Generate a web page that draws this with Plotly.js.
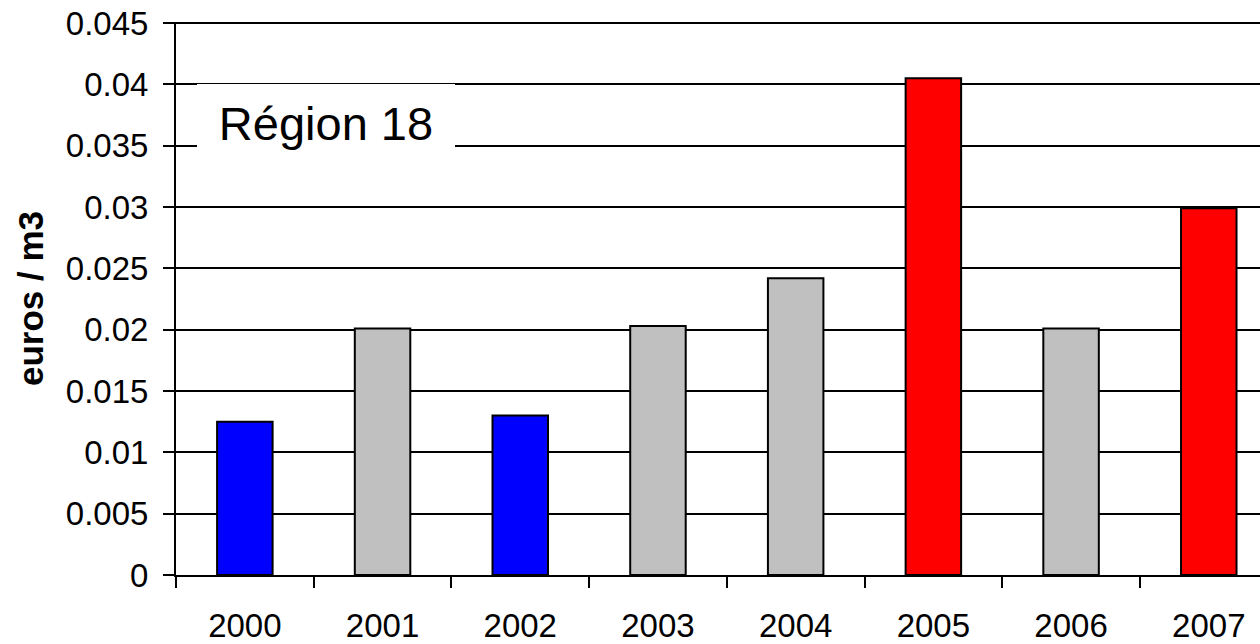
<!DOCTYPE html>
<html>
<head>
<meta charset="utf-8">
<script src="https://cdn.plot.ly/plotly-3.0.1.min.js"></script>
<style>
  html, body { margin: 0; padding: 0; background: #fff; overflow: hidden; }
  #chart { width: 1260px; height: 644px; }
</style>
</head>
<body>
<div id="chart"></div>
<script>
// Annual values (euros / m3)
const years = ["2000", "2001", "2002", "2003", "2004", "2005", "2006", "2007"];
const values = [0.0125, 0.0201, 0.013, 0.0203, 0.0242, 0.0405, 0.0201, 0.0299];
const yTicks = [0, 0.005, 0.01, 0.015, 0.02, 0.025, 0.03, 0.035, 0.04, 0.045];
const yTickLabels = ["0", "0.005", "0.01", "0.015", "0.02", "0.025", "0.03", "0.035", "0.04", "0.045"];
const regionLabel = "Région 18";

// Bar fill per year: low years blue, high years red, others grey
const fillByYear = {
  "2000": "#0000ff", "2001": "#c0c0c0", "2002": "#0000ff", "2003": "#c0c0c0",
  "2004": "#c0c0c0", "2005": "#ff0000", "2006": "#c0c0c0", "2007": "#ff0000"
};

const FONT = "Liberation Sans, Arial, sans-serif";
// a hair above the last tick so its gridline stays inside the plot
const yMax = yTicks[yTicks.length - 1] * 1.002;

const trace = {
  type: "bar",
  x: years,
  y: values,
  width: 0.403,
  marker: {
    color: years.map(y => fillByYear[y]),
    line: { color: "#000", width: 2 }
  },
  hoverinfo: "x+y"
};

const layout = {
  width: 1260,
  height: 644,
  margin: { l: 176, r: 0, t: 22, b: 69 },
  paper_bgcolor: "#fff",
  plot_bgcolor: "#fff",
  showlegend: false,
  font: { family: FONT, color: "#000", size: 33 },
  xaxis: {
    type: "category",
    range: [-0.5, 7.372],
    showgrid: false,
    zeroline: false,
    showline: true,
    linecolor: "#000",
    linewidth: 2,
    ticks: "outside",
    tickson: "boundaries",
    ticklen: 11,
    tickwidth: 2,
    tickcolor: "#000",
    ticklabelstandoff: 20,
    tickfont: { family: FONT, size: 33, color: "#000" },
    fixedrange: true
  },
  yaxis: {
    range: [0, yMax],
    tickmode: "array",
    tickvals: yTicks,
    ticktext: yTickLabels,
    showgrid: true,
    gridcolor: "#000",
    gridwidth: 2,
    zeroline: false,
    showline: true,
    linecolor: "#000",
    linewidth: 2,
    ticks: "outside",
    ticklen: 11,
    tickwidth: 2,
    tickcolor: "#000",
    ticklabelstandoff: 8,
    tickfont: { family: FONT, size: 33, color: "#000" },
    title: {
      text: "<b>euros / m3</b>",
      font: { family: FONT, size: 35, color: "#000" },
      standoff: 12
    },
    fixedrange: true
  },
  annotations: [{
    text: regionLabel,
    xref: "paper",
    yref: "y",
    x: 0.0194,
    y: 0.04,
    xanchor: "left",
    yanchor: "top",
    width: 258,
    height: 78,
    align: "center",
    valign: "middle",
    bgcolor: "#fff",
    borderpad: 0,
    borderwidth: 0,
    showarrow: false,
    font: { family: FONT, size: 47, color: "#000" }
  }]
};

Plotly.newPlot("chart", [trace], layout, { displayModeBar: false, staticPlot: true });
</script>
</body>
</html>
